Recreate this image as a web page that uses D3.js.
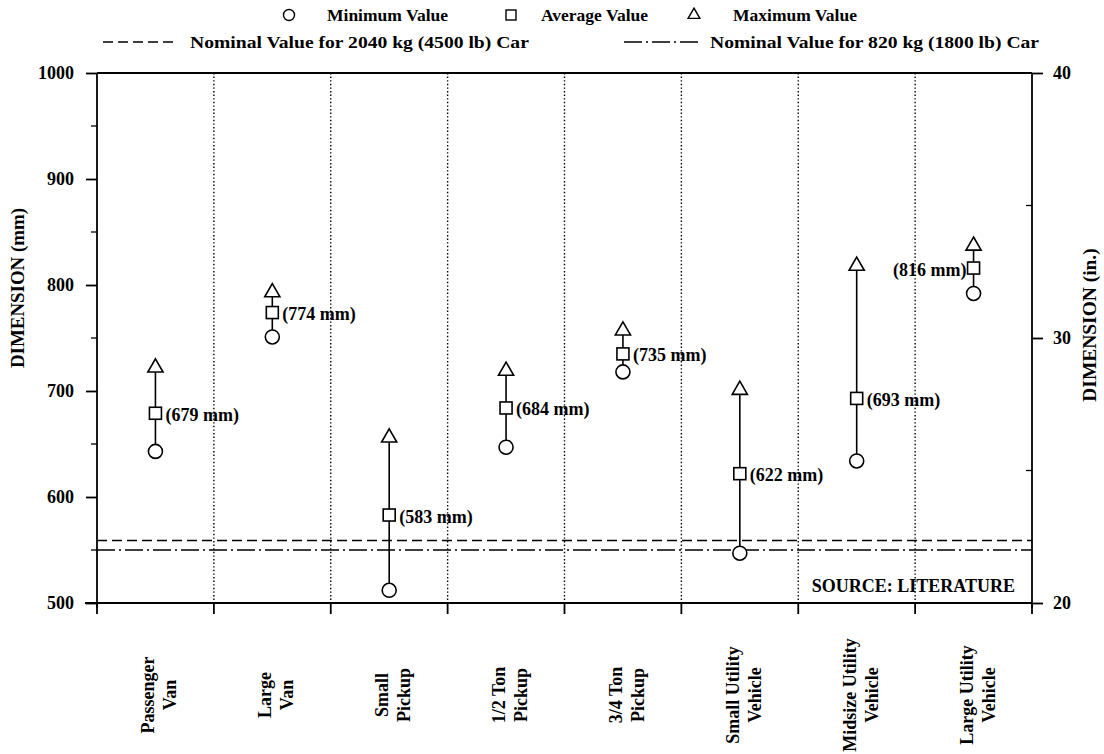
<!DOCTYPE html>
<html>
<head>
<meta charset="utf-8">
<script src="https://cdn.jsdelivr.net/npm/d3@7"></script>
<style>
  html, body { margin: 0; padding: 0; background: #fff; }
  svg { display: block; }
  text { font-family: "Liberation Serif", "Times New Roman", serif; font-weight: bold; fill: #000; }
</style>
</head>
<body>
<svg id="chart" width="1104" height="754"></svg>
<script>
// Vehicle classes (two-line labels under the axis)
const categories = [
  ["Passenger", "Van"],
  ["Large", "Van"],
  ["Small", "Pickup"],
  ["1/2 Ton", "Pickup"],
  ["3/4 Ton", "Pickup"],
  ["Small Utility", "Vehicle"],
  ["Midsize Utility", "Vehicle"],
  ["Large Utility", "Vehicle"]
];
// Dimension in mm for each class
const minValues = [643, 751, 512, 647, 718, 547, 634, 792];
const avgValues = [679, 774, 583, 684, 735, 622, 693, 816];
const maxValues = [722, 793, 656, 719, 757, 701, 818, 837];
// Nominal passenger-car references (mm)
const nominal2040 = 559;
const nominal820 = 550;
// Axis ticks
const mmTicks = [500, 600, 700, 800, 900, 1000];
const mmMinorTicks = [550, 650, 750, 850, 950];
const inTicks = [20, 30, 40];
const inMinorTicks = [25, 35];

const svg = d3.select("#chart");
const plotL = 97, plotR = 1032, plotT = 73, plotB = 603;
const AX = 1.8;

const x = d3.scaleBand().domain(d3.range(categories.length)).range([plotL, plotR]).padding(0);
const y = d3.scaleLinear().domain([500, 1000]).range([plotB, plotT]);
const yIn = d3.scaleLinear().domain([20, 40]).range([plotB, plotT]);

// Stretch a text element along its baseline by factor k
function widen(sel, k) {
  sel.each(function() {
    const w = this.getComputedTextLength();
    d3.select(this).attr("textLength", w * k).attr("lengthAdjust", "spacingAndGlyphs");
  });
  return sel;
}

// Frame: top border
svg.append("line").attr("x1", plotL).attr("x2", plotR).attr("y1", plotT).attr("y2", plotT)
  .attr("stroke", "#000").attr("stroke-width", AX);

// Vertical dotted separators between classes
const seps = d3.range(1, categories.length).map(i => x(i));
svg.append("g").selectAll("line").data(seps).join("line")
  .attr("x1", d => d).attr("x2", d => d)
  .attr("y1", plotT).attr("y2", plotB)
  .attr("stroke", "#000").attr("stroke-width", 1.4)
  .attr("stroke-dasharray", "1.4,2.2");

// Left axis (mm)
const gL = svg.append("g").attr("transform", `translate(${plotL},0)`)
  .call(d3.axisLeft(y).tickValues(mmTicks).tickSize(11).tickPadding(12).tickFormat(d3.format("d")));
gL.append("g").selectAll("line").data(mmMinorTicks).join("line")
  .attr("x1", -6).attr("x2", 0).attr("y1", d => y(d)).attr("y2", d => y(d))
  .attr("stroke", "#000").attr("stroke-width", 1.3);

// Right axis (in.)
const gR = svg.append("g").attr("transform", `translate(${plotR},0)`)
  .call(d3.axisRight(yIn).tickValues(inTicks).tickSize(11).tickPadding(10).tickFormat(d3.format("d")));
gR.append("g").selectAll("line").data(inMinorTicks).join("line")
  .attr("x1", -6).attr("x2", 0).attr("y1", d => yIn(d)).attr("y2", d => yIn(d))
  .attr("stroke", "#000").attr("stroke-width", 1.3);

[gL, gR].forEach(g => {
  g.select(".domain").remove();
  g.selectAll(".tick line").attr("stroke-width", AX);
  g.selectAll("text").style("font-size", "18px").attr("font-family", null);
  g.append("line").attr("x1", 0).attr("x2", 0).attr("y1", plotT).attr("y2", plotB + 5)
    .attr("stroke", "#000").attr("stroke-width", AX);
});

// Bottom axis with ticks at class boundaries
const bounds = d3.range(categories.length + 1).map(i => plotL + i * x.bandwidth());
const gB = svg.append("g");
gB.append("line").attr("x1", plotL - 12).attr("x2", plotR).attr("y1", plotB).attr("y2", plotB)
  .attr("stroke", "#000").attr("stroke-width", AX);
gB.selectAll("line.tk").data(bounds).join("line").attr("class", "tk")
  .attr("x1", d => d).attr("x2", d => d).attr("y1", plotB).attr("y2", plotB + 11)
  .attr("stroke", "#000").attr("stroke-width", AX);

// Category labels, rotated, two centred lines each
const catG = svg.append("g").selectAll("g").data(categories).join("g")
  .attr("transform", (d, i) => `translate(${x(i) + x.bandwidth() / 2},695) rotate(-90)`);
catG.each(function(d) {
  const g = d3.select(this);
  d.forEach((line, j) => {
    g.append("text").attr("x", 0).attr("y", -1 + j * 22)
      .attr("text-anchor", "middle").style("font-size", "18px").text(line);
  });
});

// Axis titles
svg.append("text").attr("transform", "translate(24,288) rotate(-90)")
  .attr("text-anchor", "middle").style("font-size", "18px").text("DIMENSION (mm)")
  .call(widen, 1.05);
svg.append("text").attr("transform", "translate(1096,325) rotate(-90)")
  .attr("text-anchor", "middle").style("font-size", "18px").text("DIMENSION (in.)")
  .call(widen, 1.08);

// Nominal reference lines
svg.append("line").attr("x1", plotL).attr("x2", plotR)
  .attr("y1", y(nominal2040)).attr("y2", y(nominal2040))
  .attr("stroke", "#000").attr("stroke-width", 1.6).attr("stroke-dasharray", "10,5");
svg.append("line").attr("x1", plotL).attr("x2", plotR)
  .attr("y1", y(nominal820)).attr("y2", y(nominal820))
  .attr("stroke", "#000").attr("stroke-width", 1.6).attr("stroke-dasharray", "18,4,2,4");

// Range bars and markers
const rows = categories.map((c, i) => ({ i, min: minValues[i], avg: avgValues[i], max: maxValues[i] }));
const cx = d => x(d.i) + x.bandwidth() / 2;
const last = rows.length - 1;
const pts = svg.append("g");
pts.selectAll("line.rng").data(rows).join("line").attr("class", "rng")
  .attr("x1", cx).attr("x2", cx).attr("y1", d => y(d.min)).attr("y2", d => y(d.max))
  .attr("stroke", "#000").attr("stroke-width", 1.6);
const triangle = d3.symbol().type(d3.symbolTriangle).size(100);
pts.selectAll("path.max").data(rows).join("path").attr("class", "max")
  .attr("d", triangle).attr("transform", d => `translate(${cx(d)},${y(d.max)})`)
  .attr("fill", "#fff").attr("stroke", "#000").attr("stroke-width", 1.6);
pts.selectAll("rect.avg").data(rows).join("rect").attr("class", "avg")
  .attr("x", d => cx(d) - 6).attr("y", d => y(d.avg) - 6).attr("width", 12).attr("height", 12)
  .attr("fill", "#fff").attr("stroke", "#000").attr("stroke-width", 1.6);
pts.selectAll("circle.min").data(rows).join("circle").attr("class", "min")
  .attr("cx", cx).attr("cy", d => y(d.min)).attr("r", 7)
  .attr("fill", "#fff").attr("stroke", "#000").attr("stroke-width", 1.6);

// Average labels
pts.selectAll("text.lbl").data(rows).join("text").attr("class", "lbl")
  .attr("x", d => d.i === last ? cx(d) - 7 : cx(d) + 10)
  .attr("y", d => y(d.avg) + 7.5)
  .attr("text-anchor", d => d.i === last ? "end" : "start")
  .style("font-size", "18px")
  .text(d => `(${d.avg} mm)`);

// Source note
svg.append("text").attr("x", 1015).attr("y", 592).attr("text-anchor", "end")
  .style("font-size", "18px").text("SOURCE: LITERATURE");

// Legend
const leg = svg.append("g");
const legFont = "17.5px";
leg.append("circle").attr("cx", 289).attr("cy", 15).attr("r", 5.5)
  .attr("fill", "#fff").attr("stroke", "#000").attr("stroke-width", 1.4);
leg.append("text").attr("x", 327).attr("y", 21).style("font-size", legFont).text("Minimum Value");
leg.append("rect").attr("x", 506).attr("y", 10).attr("width", 10).attr("height", 10)
  .attr("fill", "#fff").attr("stroke", "#000").attr("stroke-width", 1.4);
leg.append("text").attr("x", 541).attr("y", 21).style("font-size", legFont).text("Average Value");
leg.append("path").attr("d", d3.symbol().type(d3.symbolTriangle).size(60))
  .attr("transform", "translate(694,15)")
  .attr("fill", "#fff").attr("stroke", "#000").attr("stroke-width", 1.4);
leg.append("text").attr("x", 733).attr("y", 21).style("font-size", legFont).text("Maximum Value");

leg.append("line").attr("x1", 103).attr("x2", 178).attr("y1", 42).attr("y2", 42)
  .attr("stroke", "#000").attr("stroke-width", 1.6).attr("stroke-dasharray", "10,5");
leg.append("text").attr("x", 190).attr("y", 48).style("font-size", legFont)
  .text("Nominal Value for 2040 kg (4500 lb) Car").call(widen, 1.12);
leg.append("line").attr("x1", 624).attr("x2", 699).attr("y1", 42).attr("y2", 42)
  .attr("stroke", "#000").attr("stroke-width", 1.6).attr("stroke-dasharray", "18,4,2,4");
leg.append("text").attr("x", 710).attr("y", 48).style("font-size", legFont)
  .text("Nominal Value for 820 kg (1800 lb) Car").call(widen, 1.12);
</script>
</body>
</html>
